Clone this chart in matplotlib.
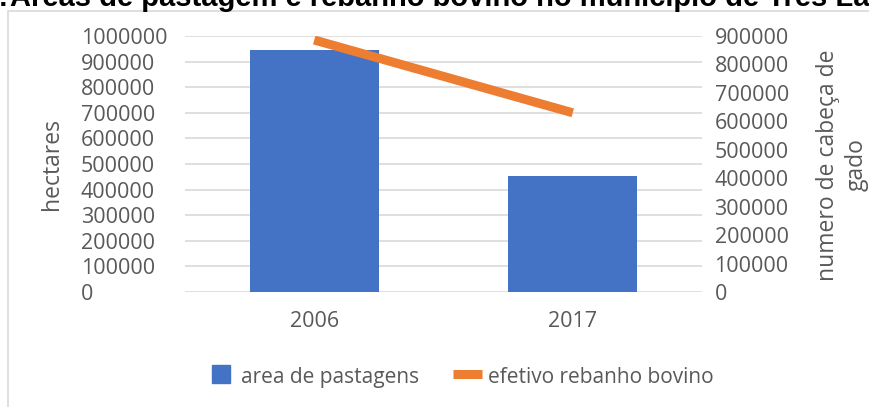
import matplotlib.pyplot as plt
from matplotlib.patches import Rectangle
from matplotlib.lines import Line2D
from matplotlib.ticker import StrMethodFormatter

# dados
anos = ['2006', '2017']
area_pastagens = [945000, 453000]      # hectares
rebanho_bovino = [886000, 630000]      # cabeças de gado

azul = '#4472C4'
laranja = '#ED7D31'
cinza = '#595959'
grade = '#D9D9D9'

plt.rcParams['font.family'] = ['Open Sans', 'DejaVu Sans']

W, H = 869, 407
fig = plt.figure(figsize=(W / 100, H / 100), dpi=100)

# moldura do grafico
fig.patches.append(Rectangle((8 / W, -0.1), 1.0, 1.1 - 11 / H, transform=fig.transFigure,
                             fill=False, edgecolor=grade, linewidth=1.2))

# titulo cortado no topo
fig.text(8 / W, 1 - 6 / H, 'Figura 1:', ha='right', va='baseline',
         fontsize=21, fontweight='bold', family='Liberation Sans', color='black')
fig.text(10 / W, 1 - 6 / H, 'Áreas de pastagem e rebanho bovino no município de Três Lagoas',
         ha='left', va='baseline', fontsize=21, fontweight='bold',
         family='Liberation Sans', color='black')

ax = fig.add_axes([185 / W, 1 - 292 / H, (702 - 185) / W, (292 - 36) / H])
x = range(len(anos))
ax.bar(x, area_pastagens, width=0.5, color=azul, zorder=2)
ax.set_xlim(-0.5, 1.5)
ax.set_ylim(0, 1000000)
ax.set_yticks(range(0, 1000001, 100000))
ax.yaxis.set_major_formatter(StrMethodFormatter('{x:.0f}'))
ax.set_xticks(list(x))
ax.set_xticklabels(anos)
ax.grid(axis='y', color=grade, linewidth=1.2, zorder=0)
ax.set_axisbelow(True)
for s in ax.spines.values():
    s.set_visible(False)
ax.tick_params(axis='y', length=0, pad=75, labelsize=15.5, labelcolor=cinza)
ax.tick_params(axis='x', length=0, pad=14, labelsize=15.5, labelcolor=cinza)
for lab in ax.get_yticklabels():
    lab.set_horizontalalignment('left')

ax2 = ax.twinx()
ax2.plot(list(x), rebanho_bovino, color=laranja, linewidth=6.5, solid_capstyle='butt', zorder=3)
ax2.set_ylim(0, 900000)
ax2.set_yticks(range(0, 900001, 100000))
ax2.yaxis.set_major_formatter(StrMethodFormatter('{x:.0f}'))
for s in ax2.spines.values():
    s.set_visible(False)
ax2.tick_params(axis='y', length=0, pad=9, labelsize=15.5, labelcolor=cinza)

fig.text(52 / W, 1 - 164 / H, 'hectares', rotation=90, ha='center', va='center',
         fontsize=16.5, color=cinza)
fig.text(842 / W, 1 - 165 / H, 'numero de cabeça de\ngado', rotation=90, ha='center',
         va='center', fontsize=16.5, color=cinza, linespacing=1.25, multialignment='center')

handles = [Line2D([], [], linestyle='none', marker='s', markersize=13.5,
                  markerfacecolor=azul, markeredgecolor=azul, label='area de pastagens'),
           Line2D([], [], color=laranja, linewidth=6.5, solid_capstyle='butt',
                  label='efetivo rebanho bovino')]
fig.legend(handles=handles, loc='center', bbox_to_anchor=(460 / W, 1 - 377 / H), ncol=2,
           frameon=False, fontsize=15, labelcolor=cinza, handlelength=1.4,
           handleheight=1.0, handletextpad=0.3, columnspacing=1.6)

fig.savefig('out.png', dpi=100)
